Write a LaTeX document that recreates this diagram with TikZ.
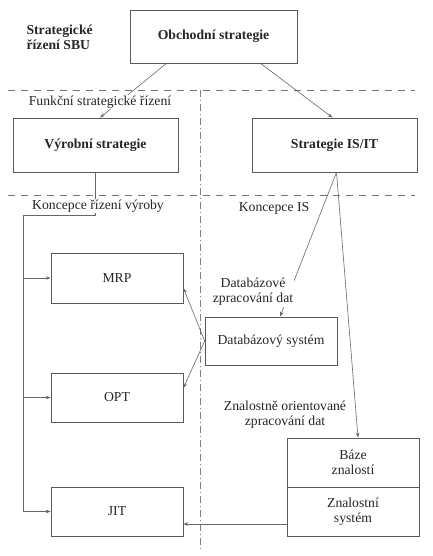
\documentclass[tikz,border=0pt]{standalone}
\usepackage{fontspec}
\setmainfont{Liberation Serif}
\usetikzlibrary{arrows.meta}
\begin{document}
\begin{tikzpicture}[x=1pt, y=-1pt, >={Stealth[length=5pt,width=3.5pt]},
    font=\fontsize{13.7pt}{15pt}\selectfont,
    box/.style={draw=black!65, line width=0.7pt, inner sep=0pt, text=black!85},
    bold/.style={font=\fontsize{13.7pt}{15pt}\selectfont\bfseries},
    lbl/.style={fill=white, inner sep=1pt, align=center, text=black!85},
    conn/.style={draw=black!60, line width=0.6pt},
    level/.style={draw=black!55, line width=0.6pt, dash pattern=on 7pt off 6pt},
    split/.style={draw=black!50, line width=0.5pt, dash pattern=on 7pt off 3pt on 1pt off 3pt}]
    \useasboundingbox (0,0) rectangle (433,556);

    % levels
    \draw[level] (8,90) -- (415,90);
    \draw[level] (8,195) -- (415,195);
    \draw[split] (200,90) -- (200,552);

    \node[box, bold, minimum width=167pt, minimum height=53pt] (obch) at (213.5,36.5) {Obchodní strategie};
    \node[box, bold, minimum width=165pt, minimum height=54pt] (vyr) at (95.5,145) {Výrobní strategie};
    \node[box, bold, minimum width=165pt, minimum height=54pt] (isit) at (334.5,145) {Strategie IS/IT};

    \node[box, minimum width=132pt, minimum height=50pt] (mrp) at (117,278) {MRP};
    \node[box, minimum width=132pt, minimum height=49pt] (opt) at (117,397.5) {OPT};
    \node[box, minimum width=132pt, minimum height=49pt] (jit) at (117,511.5) {JIT};
    \node[box, minimum width=132pt, minimum height=48pt] (dbs) at (271,341) {Databázový systém};
    \node[box, minimum width=132pt, minimum height=49pt, align=center] (baze) at (353,462.5) {Báze\\znalostí};
    \node[box, minimum width=132pt, minimum height=49pt, align=center] (zs) at (353,511.5) {Znalostní\\systém};

    % connectors
    \draw[conn, ->] ([xshift=-47pt]obch.south) -- ([xshift=4.5pt]vyr.north);
    \draw[conn, ->] ([xshift=47pt]obch.south) -- ([xshift=-2pt]isit.north);
    \draw[conn, ->] ([xshift=2pt]isit.south) -- ([xshift=9pt]dbs.north);
    \draw[conn, ->] ([xshift=2pt]isit.south) -- ([xshift=5pt]baze.north);

    \coordinate (T) at (23,215);
    \draw[conn] (vyr.south) |- (T) -- (T |- jit.west);
    \draw[conn, ->] (T |- mrp.west) -- (mrp.west);
    \draw[conn, ->] (T |- opt.west) -- (opt.west);
    \draw[conn, ->] (T |- jit.west) -- (jit.west);

    \draw[conn, ->] (dbs.west) -- ([yshift=-10pt]mrp.east);
    \draw[conn, ->] (dbs.west) -- ([yshift=9.5pt]opt.east);
    \draw[conn, ->] ([yshift=-12.5pt]zs.west) -- ([yshift=-12.5pt]jit.east);

    % labels
    \node[bold, align=left, anchor=west, text=black!85] (sbu) at (23,37.5) {Strategické\\řízení SBU};
    \node[lbl] (fsr) at (100,102) {Funkční strategické řízení};
    \node[lbl] (kzv) at (98,206) {Koncepce řízení výroby};
    \node[lbl] (kis) at (274,208) {Koncepce IS};
    \node[lbl] (dzd) at (253,292) {Databázové\\zpracování dat};
    \node[lbl] (zzd) at (285,415) {Znalostně orientované\\zpracování dat};
\end{tikzpicture}
\end{document}
